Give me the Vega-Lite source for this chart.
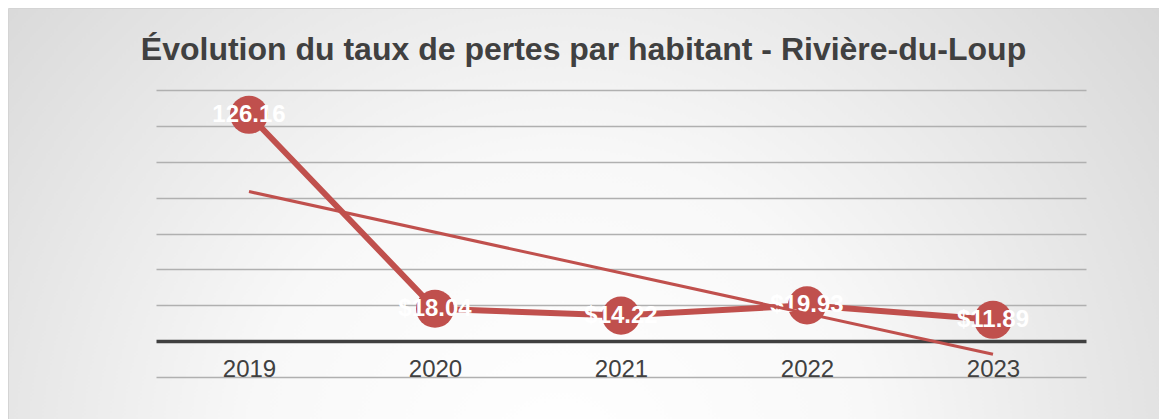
{
  "$schema": "https://vega.github.io/schema/vega-lite/v6.json",
  "width": 1151,
  "height": 411,
  "autosize": {"type": "none"},
  "padding": {"left": 8, "top": 8, "right": 0, "bottom": 0},
  "background": "#ffffff",
  "view": {
    "stroke": "#d4d4d4",
    "strokeWidth": 1,
    "fill": {
      "gradient": "radial",
      "x1": 0.48, "y1": 0.72, "r1": 0,
      "x2": 0.48, "y2": 0.72, "r2": 0.9,
      "stops": [
        {"offset": 0, "color": "#ffffff"},
        {"offset": 0.3, "color": "#f8f8f8"},
        {"offset": 1, "color": "#c2c2c2"}
      ]
    }
  },
  "title": {
    "text": "Évolution du taux de pertes par habitant - Rivière-du-Loup",
    "font": "Liberation Sans",
    "fontSize": 32,
    "fontWeight": "bold",
    "color": "#404040",
    "anchor": "middle",
    "frame": "group",
    "baseline": "alphabetic",
    "offset": -84
  },
  "data": {
    "values": [
      {"year": 2019, "value": 126.16, "label": "126.16"},
      {"year": 2020, "value": 18.04, "label": "$18.04"},
      {"year": 2021, "value": 14.22, "label": "$14.22"},
      {"year": 2022, "value": 19.93, "label": "$19.93"},
      {"year": 2023, "value": 11.89, "label": "$11.89"}
    ]
  },
  "encoding": {
    "x": {
      "field": "year",
      "type": "quantitative",
      "scale": {"domain": [2018.5, 2023.5], "range": [148, 1078], "nice": false, "zero": false},
      "axis": {
        "orient": "bottom",
        "offset": -78,
        "values": [2019, 2020, 2021, 2022, 2023],
        "format": "d",
        "title": null,
        "grid": false,
        "ticks": false,
        "tickSize": 0,
        "labelPadding": 16,
        "labelFont": "Liberation Sans",
        "labelFontSize": 24,
        "labelColor": "#404040",
        "domainColor": "#404040",
        "domainWidth": 3.5
      }
    },
    "y": {
      "field": "value",
      "type": "quantitative",
      "scale": {"domain": [-20, 140], "range": [369, 82], "nice": false, "zero": false},
      "axis": {
        "title": null,
        "labels": false,
        "ticks": false,
        "domain": false,
        "grid": true,
        "values": [-20, 20, 40, 60, 80, 100, 120, 140],
        "gridColor": "#b0b0b0",
        "gridWidth": 1.5
      }
    }
  },
  "layer": [
    {
      "mark": {"type": "line", "color": "#c0504d", "strokeWidth": 6}
    },
    {
      "mark": {"type": "point", "filled": true, "size": 1450, "color": "#c0504d", "opacity": 1}
    },
    {
      "mark": {"type": "text", "color": "#ffffff", "font": "Liberation Sans", "fontSize": 24, "fontWeight": "bold", "align": "center", "baseline": "middle"},
      "encoding": {"text": {"field": "label", "type": "nominal"}}
    },
    {
      "transform": [{"regression": "value", "on": "year", "method": "linear"}],
      "mark": {"type": "line", "color": "#c0504d", "strokeWidth": 3}
    }
  ]
}
